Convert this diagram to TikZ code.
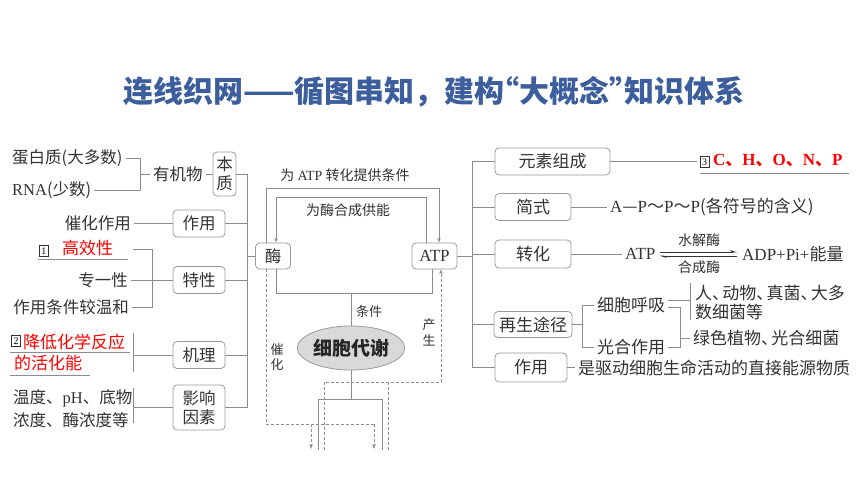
\documentclass[tikz,border=0pt]{standalone}
\usepackage{fontspec}
\setmainfont{Noto Sans CJK SC}
\newfontfamily\lat{Liberation Serif}
\usetikzlibrary{arrows.meta,shapes.geometric}
\definecolor{lnc}{HTML}{8C8C8C}
\definecolor{bxc}{HTML}{9A9A9A}
\definecolor{txc}{HTML}{333333}
\definecolor{ttlc}{HTML}{3C5E9C}
\definecolor{rdc}{HTML}{FF0000}
\newcommand\dn{、\kern-0.4em}
\begin{document}
\begin{tikzpicture}[x=1pt,y=-1pt,
  ln/.style={draw=lnc, line width=0.8pt},
  ul/.style={draw=lnc, line width=0.6pt},
  dsh/.style={draw=lnc, line width=0.8pt, dash pattern=on 3pt off 2pt},
  arr/.style={-{Stealth[length=5pt,width=3.5pt]}},
  harp/.style={draw=black!80, line width=0.7pt, -{Stealth[harpoon,length=6pt,width=4pt]}},
  box/.style={draw=bxc, line width=0.8pt, rounded corners=4pt, fill=white, text=txc, inner sep=0pt, align=center},
  txt/.style={inner xsep=3pt, inner ysep=0pt, text=txc},
  lbl/.style={inner sep=0pt, text=txc, align=center},
  numbox/.style={draw=black!80, line width=0.5pt, inner sep=0pt, minimum width=9pt, minimum height=11pt, text=black, font=\lat\fontsize{10}{10}\selectfont},
  fa/.style={font=\fontsize{16.5}{19}\selectfont},
  fb/.style={font=\fontsize{17}{19}\selectfont},
  fc/.style={font=\fontsize{14}{16}\selectfont},
  fr/.style={font=\fontsize{17}{20}\selectfont, text=rdc}
]
\fill[white] (0,0) rectangle (860,484);
\useasboundingbox (0,0) rectangle (860,484);

% title
\node[font=\fontsize{30}{32}\selectfont\bfseries, text=ttlc, inner sep=0pt] (title) at (434,92) {连线织网——循图串知，建构\kern-0.5em“大概念”\kern-0.5em知识体系};

% ---------- left tree ----------
\node[txt,fa,anchor=west] (dbz) at (9,158) {蛋白质(大多数)};
\node[txt,fa,anchor=west] (rna) at (9,190) {{\lat RNA}(少数)};
\coordinate (bk1t) at (140,158);
\coordinate (bk1b) at (140,190);
\coordinate (bk1m) at (140,174);
\draw[ln] (dbz.east) -- (bk1t) -- (bk1b) -- (rna.east);
\node[txt,fa,anchor=west] (yjw) at (150,174) {有机物};
\draw[ln] (bk1m) -- (yjw.west);
\node[box,fa,minimum width=23pt,minimum height=44pt] (bz) at (224.5,174) {本\\质};
\draw[ln] (yjw.east) -- (bz.west);

\coordinate (ls1) at (247,174);
\coordinate (ls2) at (247,407.5);
\draw[ln] (bz.east) -- (ls1) -- (ls2);

\node[box,fa,minimum width=52pt,minimum height=27pt] (zy) at (199,223.5) {作用};
\node[box,fa,minimum width=52pt,minimum height=27pt] (tx) at (199,280) {特性};
\node[box,fa,minimum width=52pt,minimum height=27pt] (jl) at (199,355) {机理};
\node[box,fa,minimum width=52pt,minimum height=45pt] (yx) at (199,407.5) {影响\\因素};
\node[box,fa,minimum width=35pt,minimum height=26pt] (mei) at (273,256) {酶};
\draw[ln] (zy.east) -- (zy.east -| ls1);
\draw[ln] (tx.east) -- (tx.east -| ls1);
\draw[ln] (jl.east) -- (jl.east -| ls1);
\draw[ln] (yx.east) -- (ls2);
\draw[ln] (mei.west -| ls1) -- (mei.west);

\node[txt,fa,anchor=east] (chzy) at (134,223.5) {催化作用};
\draw[ln] (chzy.east) -- (zy.west);

\node[numbox] (n1) at (44,251) {1};
\node[txt,fr,anchor=west] (gxx) at (59,248) {高效性};
\draw[ul] (38,259) -- (128,259);
\node[txt,fa,anchor=east] (zyx) at (131,280) {专一性};
\node[txt,fa,anchor=east] (tjwh) at (132,307) {作用条件较温和};
\coordinate (gxxe) at (133,249);
\coordinate (b2t) at (152,249);
\coordinate (b2b) at (152,307);
\draw[ln] (gxxe) -- (b2t) -- (b2b) -- (tjwh.east);
\draw[ln] (zyx.east) -- (tx.west);

\node[numbox] (n2) at (16,341) {2};
\node[txt,fr,anchor=west] (jd1) at (20,342) {降低化学反应};
\node[txt,fr,anchor=west] (jd2) at (11,363) {的活化能};
\draw[ul] (10,352) -- (130,352);
\draw[ul] (10,375) -- (90,375);
\coordinate (b3t) at (133,333);
\coordinate (b3b) at (133,372);
\draw[ln] (b3t) -- (b3b);
\draw[ln] (b3t |- jl.west) -- (jl.west);

\node[txt,fa,anchor=west] (wd1) at (10,398) {温度、{\lat pH}、底物};
\node[txt,fa,anchor=west] (wd2) at (10,420) {浓度、酶浓度等};
\coordinate (b4t) at (133,388);
\coordinate (b4b) at (133,423);
\draw[ln] (b4t) -- (b4b);
\draw[ln] (b4t |- yx.west) -- (yx.west);

% ---------- centre ----------
\node[box,font=\lat\fontsize{17}{20}\selectfont,minimum width=45pt,minimum height=26pt] (atp) at (434.5,256) {ATP};

\coordinate (oL) at (266,188);
\coordinate (oR) at (439,188);
\draw[ln,arr] (mei.north -| oL) -- (oL) -- (oR) -- (atp.north -| oR);
\coordinate (iR) at (426,197);
\coordinate (iL) at (276,197);
\draw[ln,arr] (atp.north -| iR) -- (iR) -- (iL) -- (mei.north -| iL);
\coordinate (bL) at (276,293);
\coordinate (bR) at (432,293);
\coordinate (bM) at (351,293);
\draw[ln] (mei.south -| bL) -- (bL) -- (bR) -- (atp.south -| bR);

\node[ellipse, draw=bxc, line width=0.8pt, fill=black!15, minimum width=100pt, minimum height=44pt, inner sep=0pt, font=\fontsize{19}{22}\selectfont\bfseries, text=black!85] (xbdx) at (351,348) {细胞代谢};
\draw[ln] (bM) -- (xbdx.north);

\node[lbl,fc] (l1) at (345,175) {为 {\lat ATP} 转化提供条件};
\node[lbl,fc] (l2) at (348,210) {为酶合成供能};
\node[lbl,font=\fontsize{13}{15}\selectfont] (l3) at (369,312) {条件};
\node[lbl,font=\fontsize{13}{15}\selectfont] (l4) at (277,357) {催\\化};
\node[lbl,font=\fontsize{13}{16}\selectfont] (l5) at (429,332) {产\\生};

\coordinate (eb) at (351,399);
\coordinate (ebl) at (318,399);
\coordinate (ebr) at (382,399);
\coordinate (ebl2) at (318,450);
\coordinate (ebr2) at (382,450);
\draw[ln] (xbdx.south) -- (eb);
\draw[ln] (ebl2) -- (ebl) -- (ebr) -- (ebr2);

\coordinate (d1) at (266,424);
\coordinate (d2) at (374,424);
\coordinate (d3) at (311,424);
\coordinate (d3e) at (311,449);
\coordinate (d2e) at (374,449);
\draw[dsh] (mei.south -| d1) -- (d1) -- (d2);
\draw[dsh,arr] (d3) -- (d3e);
\draw[dsh,arr] (d2) -- (d2e);

\coordinate (a1) at (324,450);
\coordinate (a2) at (324,382);
\coordinate (a3) at (441,382);
\coordinate (a4) at (388,382);
\coordinate (a5) at (388,450);
\draw[dsh,arr] (a1) -- (a2) -- (a3) -- (atp.south -| a3);
\draw[dsh] (a4) -- (a5);

% ---------- right tree ----------
\coordinate (rs) at (472,256);
\coordinate (rst) at (472,161.5);
\coordinate (rsb) at (472,367.5);
\draw[ln] (atp.east) -- (rs);
\draw[ln] (rst) -- (rsb);

\node[box,fb,minimum width=115pt,minimum height=27pt] (yszc) at (552.5,161.5) {元素组成};
\node[box,fb,minimum width=76pt,minimum height=27pt] (js) at (533,207) {简式};
\node[box,fb,minimum width=76pt,minimum height=28pt] (zh) at (533,254) {转化};
\node[box,fb,minimum width=78pt,minimum height=26pt] (zs) at (533,324.5) {再生途径};
\node[box,fb,minimum width=72pt,minimum height=29pt] (zy2) at (531,367.5) {作用};
\draw[ln] (yszc.west -| rs) -- (yszc.west);
\draw[ln] (js.west -| rs) -- (js.west);
\draw[ln] (zh.west -| rs) -- (zh.west);
\draw[ln] (zs.west -| rs) -- (zs.west);
\draw[ln] (zy2.west -| rs) -- (zy2.west);

\coordinate (ye) at (697,161.5);
\draw[ln] (yszc.east) -- (ye);
\node[numbox] (n3) at (704.5,162) {3};
\node[txt,anchor=west,font=\fontsize{17}{20}\selectfont\bfseries,text=rdc] (chonp) at (710,161) {{\lat\bfseries C}、{\lat\bfseries H}、{\lat\bfseries O}、{\lat\bfseries N}、{\lat\bfseries P}};
\draw[ul] (700,173) -- (849,173);

\node[txt,fb,anchor=west] (jsx) at (607,207) {{\lat A}—{\lat P}～{\lat P}～{\lat P}(各符号的含义)};
\draw[ln] (js.east) -- (jsx.west);

\node[txt,anchor=west,font=\lat\fontsize{17}{20}\selectfont,text=txc] (atp2) at (622,254) {ATP};
\draw[ln] (zh.east) -- (atp2.west);
\node[txt,fb,anchor=west] (adp) at (739,254) {{\lat ADP+Pi+}能量};
\draw[harp,shorten <=1pt,shorten >=2pt] ([yshift=2pt]atp2.east) -- ([yshift=2pt]adp.west);
\draw[harp,shorten <=2pt,shorten >=1pt] ([yshift=-2pt]adp.west) -- ([yshift=-2pt]atp2.east);
\node[lbl,fc] (sjm) at (699,240) {水解酶};
\node[lbl,fc] (hcm) at (699,267) {合成酶};

\coordinate (z1) at (582,324.5);
\coordinate (z1t) at (582,305);
\coordinate (z1b) at (582,347);
\node[txt,fb,anchor=west] (hx) at (594,305) {细胞呼吸};
\node[txt,fb,anchor=west] (gh) at (594,347) {光合作用};
\draw[ln] (zs.east) -- (z1);
\draw[ln] (hx.west) -- (z1t) -- (z1b) -- (gh.west);

\coordinate (ra) at (690,300);
\coordinate (rat) at (690,283);
\coordinate (rab) at (690,320);
\draw[ln] (hx.east |- ra) -- (ra);
\draw[ln] (rat) -- (rab);
\node[txt,fb,anchor=west,align=left] (rdw) at (692,302.5) {人\dn 动物\dn 真菌\dn 大多\\数细菌等};

\coordinate (rb1) at (680,307);
\coordinate (rb2) at (680,347);
\coordinate (rbm) at (680,338);
\draw[ln] (hx.east |- rb1) -- (rb1) -- (rb2) -- (gh.east);
\node[txt,fb,anchor=west] (lszw) at (690,338) {绿色植物\dn 光合细菌};
\draw[ln] (rbm) -- (lszw.west);

\node[txt,fb,anchor=west] (qd) at (575,367.5) {是驱动细胞生命活动的直接能源物质};
\draw[ln] (zy2.east) -- (qd.west);
\end{tikzpicture}
\end{document}
